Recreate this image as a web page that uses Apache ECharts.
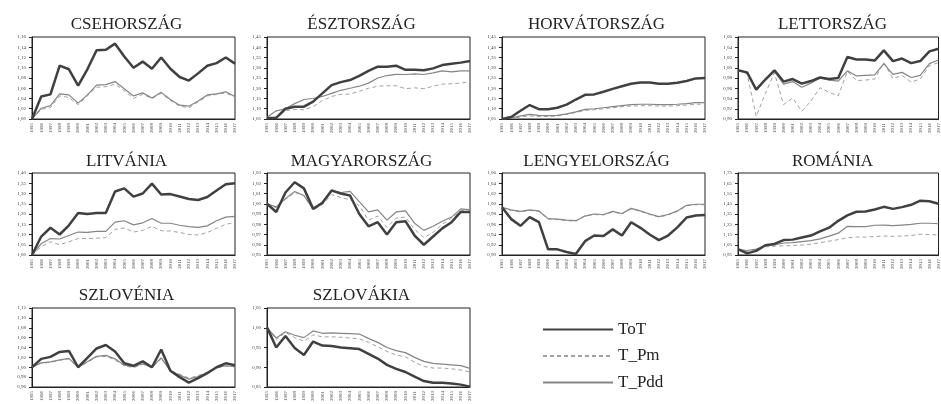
<!DOCTYPE html>
<html>
<head>
<meta charset="utf-8">
<script src="https://cdn.jsdelivr.net/npm/echarts@6/dist/echarts.min.js"></script>
<style>
html,body{margin:0;padding:0;background:#fff;}
#chart{width:941px;height:404px;}
</style>
</head>
<body>
<div id="chart"></div>
<script>
// ---- DATA ----
const years = ['1995','1996','1997','1998','1999','2000','2001','2002','2003','2004','2005','2006','2007','2008','2009','2010','2011','2012','2013','2014','2015','2016','2017'];
const seriesNames = ['ToT', 'T_Pm', 'T_Pdd'];
const titles = ['CSEHORSZÁG','ÉSZTORSZÁG','HORVÁTORSZÁG','LETTORSZÁG','LITVÁNIA','MAGYARORSZÁG','LENGYELORSZÁG','ROMÁNIA','SZLOVÉNIA','SZLOVÁKIA'];
const yMin  = [1.00, 1.05, 1.05, 0.90, 1.00, 0.95, 0.90, 0.95, 0.96, 0.85];
const yMax  = [1.16, 1.45, 1.45, 1.06, 1.40, 1.03, 1.06, 1.75, 1.12, 1.05];
const yStep = [0.02, 0.05, 0.05, 0.02, 0.05, 0.01, 0.02, 0.10, 0.02, 0.05];

const cseh_ToT  = [1.000,1.044,1.048,1.104,1.097,1.065,1.097,1.134,1.135,1.147,1.122,1.100,1.112,1.098,1.120,1.098,1.082,1.075,1.089,1.104,1.109,1.120,1.108];
const cseh_Pm   = [1.000,1.019,1.022,1.045,1.042,1.028,1.045,1.062,1.063,1.068,1.055,1.040,1.048,1.040,1.050,1.036,1.025,1.022,1.033,1.045,1.048,1.051,1.042];
const cseh_Pdd  = [1.000,1.021,1.026,1.049,1.047,1.031,1.047,1.066,1.067,1.073,1.059,1.045,1.051,1.041,1.052,1.038,1.027,1.025,1.035,1.047,1.049,1.053,1.044];

const eszt_ToT  = [1.055,1.055,1.100,1.110,1.110,1.135,1.175,1.215,1.230,1.240,1.260,1.285,1.305,1.305,1.310,1.290,1.290,1.288,1.297,1.313,1.320,1.325,1.333];
const eszt_Pm   = [1.055,1.060,1.090,1.097,1.095,1.110,1.140,1.160,1.170,1.172,1.185,1.200,1.210,1.212,1.212,1.198,1.202,1.198,1.210,1.220,1.222,1.225,1.233];
const eszt_Pdd  = [1.058,1.090,1.100,1.125,1.145,1.150,1.160,1.175,1.190,1.200,1.210,1.225,1.250,1.262,1.268,1.267,1.270,1.267,1.275,1.285,1.280,1.285,1.285];

const horvat_ToT = [1.050,1.060,1.090,1.118,1.098,1.098,1.105,1.120,1.145,1.168,1.170,1.183,1.197,1.210,1.222,1.228,1.228,1.222,1.222,1.227,1.235,1.248,1.250];
const horvat_Pm  = [1.050,1.052,1.060,1.065,1.062,1.062,1.065,1.072,1.082,1.092,1.095,1.100,1.105,1.110,1.113,1.115,1.115,1.113,1.113,1.115,1.118,1.122,1.123];
const horvat_Pdd = [1.050,1.055,1.065,1.073,1.068,1.066,1.068,1.075,1.085,1.097,1.100,1.105,1.110,1.115,1.120,1.122,1.122,1.120,1.120,1.122,1.125,1.130,1.130];

const lett_ToT  = [0.995,0.991,0.957,0.977,0.995,0.973,0.978,0.969,0.974,0.981,0.978,0.980,1.021,1.016,1.016,1.014,1.034,1.013,1.018,1.009,1.013,1.032,1.037];
const lett_Pm   = [0.995,0.988,0.905,0.950,0.990,0.928,0.941,0.915,0.935,0.961,0.952,0.945,0.993,0.975,0.976,0.978,1.010,0.979,0.985,0.972,0.978,1.004,1.010];
const lett_Pdd  = [0.995,0.990,0.960,0.976,0.993,0.968,0.973,0.962,0.970,0.980,0.976,0.974,0.994,0.984,0.985,0.986,1.008,0.987,0.991,0.981,0.985,1.008,1.015];

const litv_ToT  = [1.000,1.090,1.133,1.100,1.145,1.205,1.200,1.205,1.205,1.310,1.325,1.285,1.300,1.348,1.295,1.297,1.285,1.273,1.268,1.283,1.315,1.345,1.350];
const litv_Pm   = [1.000,1.040,1.065,1.050,1.065,1.080,1.080,1.082,1.085,1.125,1.132,1.112,1.120,1.140,1.118,1.117,1.110,1.100,1.098,1.110,1.130,1.150,1.158];
const litv_Pdd  = [1.000,1.055,1.080,1.078,1.095,1.112,1.110,1.115,1.115,1.160,1.167,1.147,1.157,1.178,1.155,1.155,1.145,1.138,1.135,1.142,1.167,1.185,1.188];

const magy_ToT  = [1.000,0.992,1.011,1.021,1.015,0.995,1.001,1.013,1.010,1.008,0.990,0.978,0.982,0.970,0.982,0.983,0.969,0.960,0.968,0.976,0.982,0.992,0.992];
const magy_Pm   = [1.000,0.996,1.004,1.011,1.008,0.994,0.999,1.009,1.006,1.004,0.998,0.984,0.988,0.977,0.986,0.987,0.975,0.967,0.972,0.980,0.986,0.993,0.995];
const magy_Pdd  = [1.000,0.997,1.005,1.012,1.008,0.995,1.000,1.012,1.011,1.012,1.002,0.992,0.994,0.984,0.992,0.993,0.981,0.974,0.978,0.983,0.987,0.995,0.994];

const lengy_ToT = [0.993,0.970,0.957,0.974,0.964,0.911,0.911,0.906,0.902,0.927,0.938,0.937,0.950,0.938,0.964,0.953,0.940,0.929,0.938,0.954,0.973,0.977,0.978];
const lengy_Pm  = [0.992,0.987,0.984,0.987,0.985,0.970,0.969,0.967,0.966,0.977,0.979,0.978,0.984,0.980,0.990,0.985,0.979,0.974,0.978,0.985,0.996,0.998,0.998];
const lengy_Pdd = [0.993,0.988,0.985,0.988,0.986,0.971,0.970,0.968,0.967,0.976,0.980,0.979,0.985,0.981,0.991,0.986,0.980,0.975,0.979,0.986,0.997,0.999,0.999];

const rom_ToT   = [1.007,0.966,0.990,1.045,1.058,1.096,1.100,1.120,1.140,1.180,1.217,1.283,1.337,1.372,1.375,1.394,1.420,1.400,1.417,1.440,1.480,1.474,1.450];
const rom_Pm    = [1.005,0.985,1.005,1.030,1.035,1.040,1.042,1.047,1.055,1.070,1.085,1.100,1.118,1.125,1.125,1.130,1.135,1.132,1.135,1.140,1.153,1.150,1.145];
const rom_Pdd   = [1.005,0.994,1.007,1.040,1.048,1.067,1.070,1.080,1.090,1.108,1.134,1.163,1.230,1.226,1.226,1.240,1.242,1.236,1.242,1.248,1.260,1.260,1.255];

const szlovenia_ToT = [1.000,1.017,1.021,1.031,1.033,1.000,1.019,1.038,1.045,1.032,1.008,1.003,1.012,1.000,1.036,0.993,0.980,0.969,0.978,0.988,1.000,1.008,1.004];
const szlovenia_Pm  = [1.000,1.008,1.010,1.014,1.017,1.000,1.010,1.021,1.022,1.015,1.003,0.999,1.006,0.999,1.018,0.993,0.986,0.978,0.983,0.990,0.999,1.002,1.001];
const szlovenia_Pdd = [1.000,1.009,1.011,1.015,1.018,1.000,1.011,1.022,1.024,1.017,1.004,1.001,1.007,1.000,1.019,0.992,0.984,0.976,0.981,0.989,0.999,1.003,1.001];

const szlovakia_ToT = [1.001,0.950,0.979,0.949,0.931,0.965,0.955,0.954,0.950,0.948,0.946,0.934,0.922,0.906,0.896,0.888,0.876,0.865,0.861,0.861,0.859,0.856,0.851];
const szlovakia_Pm  = [1.000,0.970,0.988,0.975,0.966,0.982,0.977,0.977,0.976,0.974,0.972,0.963,0.952,0.940,0.931,0.926,0.913,0.902,0.898,0.898,0.896,0.893,0.888];
const szlovakia_Pdd = [1.000,0.974,0.990,0.981,0.975,0.992,0.986,0.987,0.986,0.985,0.984,0.973,0.963,0.950,0.942,0.937,0.925,0.915,0.910,0.908,0.906,0.904,0.897];

const panelData = [
  [cseh_ToT, cseh_Pm, cseh_Pdd],
  [eszt_ToT, eszt_Pm, eszt_Pdd],
  [horvat_ToT, horvat_Pm, horvat_Pdd],
  [lett_ToT, lett_Pm, lett_Pdd],
  [litv_ToT, litv_Pm, litv_Pdd],
  [magy_ToT, magy_Pm, magy_Pdd],
  [lengy_ToT, lengy_Pm, lengy_Pdd],
  [rom_ToT, rom_Pm, rom_Pdd],
  [szlovenia_ToT, szlovenia_Pm, szlovenia_Pdd],
  [szlovakia_ToT, szlovakia_Pm, szlovakia_Pdd]
];

// ---- LAYOUT / STYLE ----
const FONT = '"Liberation Serif", "DejaVu Serif", serif';
const colLeft = [32, 267, 502, 738];
const rowTop = [37, 173, 308];
const titleTop = [11, 148, 282];
const gridW = 203, gridH = 82;
const styles = {
  'ToT':   {color: '#404040', width: 2.5, type: 'solid'},
  'T_Pm':  {color: '#a2a2a2', width: 1, type: [4, 3]},
  'T_Pdd': {color: '#858585', width: 1.2, type: 'solid'}
};

const grids = [], xAxes = [], yAxes = [], series = [], title = [];
titles.forEach((t, i) => {
  const r = Math.floor(i / 4), c = i % 4;
  grids.push({left: colLeft[c], top: rowTop[r], width: gridW, height: gridH,
    show: true, borderColor: '#222', borderWidth: 1, backgroundColor: 'transparent'});
  title.push({text: t, left: colLeft[c] + gridW / 2 - 12, top: titleTop[r], textAlign: 'center',
    textStyle: {fontFamily: FONT, fontSize: 17, fontWeight: 'normal', color: '#222'}});
  xAxes.push({type: 'category', gridIndex: i, data: years, boundaryGap: false,
    axisLine: {lineStyle: {color: '#222', width: 1}},
    axisTick: {show: false},
    axisLabel: {rotate: 90, interval: 0, fontSize: 5, fontFamily: FONT, color: '#444', margin: 4},
    splitLine: {show: false}});
  yAxes.push({type: 'value', gridIndex: i, min: yMin[i], max: yMax[i], interval: yStep[i],
    axisLine: {show: true, lineStyle: {color: '#222', width: 1}},
    axisTick: {show: true, length: 3, lineStyle: {color: '#222'}},
    axisLabel: {fontSize: 5, fontFamily: FONT, color: '#444', margin: 6,
      formatter: v => v.toFixed(2).replace('.', ',')},
    splitLine: {show: false}});
  // draw order: T_Pm, T_Pdd, ToT on top
  [1, 2, 0].forEach(k => {
    const nm = seriesNames[k], st = styles[nm];
    series.push({name: nm, type: 'line', xAxisIndex: i, yAxisIndex: i,
      data: panelData[i][k], symbol: 'none', showSymbol: false, smooth: false,
      lineStyle: {color: st.color, width: st.width, type: st.type},
      itemStyle: {color: st.color}, z: k === 0 ? 5 : 3});
  });
});

const chart = echarts.init(document.getElementById('chart'), null, {renderer: 'canvas'});
chart.setOption({
  animation: false,
  backgroundColor: '#fff',
  title: title,
  grid: grids,
  xAxis: xAxes,
  yAxis: yAxes,
  legend: {
    data: seriesNames,
    orient: 'vertical',
    left: 537, top: 316,
    itemWidth: 70, itemHeight: 16, itemGap: 9.5,
    itemStyle: {opacity: 0},
    textStyle: {fontFamily: FONT, fontSize: 17, color: '#222'}
  },
  series: series
});
</script>
</body>
</html>
